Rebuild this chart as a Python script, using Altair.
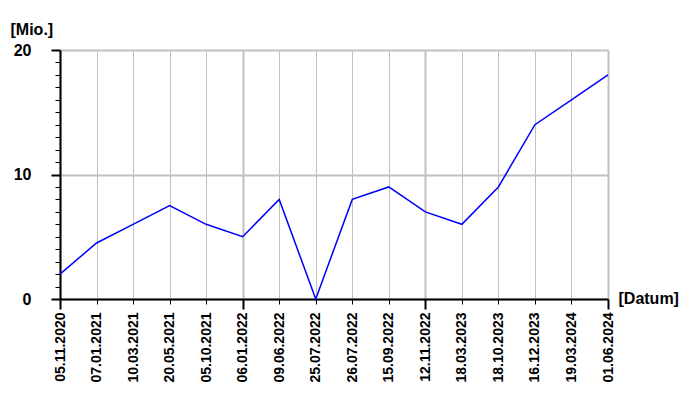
import json
import altair as alt
import pandas as pd

dates = ["05.11.2020", "07.01.2021", "10.03.2021", "20.05.2021", "05.10.2021",
         "06.01.2022", "09.06.2022", "25.07.2022", "26.07.2022", "15.09.2022",
         "12.11.2022", "18.03.2023", "18.10.2023", "16.12.2023", "19.03.2024",
         "01.06.2024"]
values = [2, 4.5, 6, 7.5, 6, 5, 8, 0, 8, 9, 7, 6, 9, 14, 16, 18]
major_dates = dates[::5]
y_ticks = list(range(0, 21))

df = pd.DataFrame({"Datum": dates, "Wert": values})

FONT = "Liberation Sans"
x_major = f"indexof({json.dumps(major_dates)}, datum.value) >= 0"
y_major = "datum.value % 10 === 0"


def cond(test, a, b):
    return {"condition": {"test": test, "value": a}, "value": b}


x_axis = alt.Axis(
    title="[Datum]", titleX=558, titleY=-1, titleAlign="left", titleBaseline="middle",
    titleAngle=0, titleFont=FONT, titleFontSize=16, titleFontWeight="bold", titleColor="black",
    labelAngle=270, labelFont=FONT, labelFontSize=14, labelFontWeight="bold", labelColor="black",
    labelOverlap=False, labelPadding=cond(x_major, 3, 8),
    tickColor="black", tickSize=cond(x_major, 10, 5), tickWidth=cond(x_major, 2, 1),
    domainColor="black", domainWidth=2,
    grid=True, gridColor="#c0c0c0", gridWidth=cond(x_major, 2, 1),
)

y_axis = alt.Axis(
    title="[Mio.]", titleX=-50, titleY=-16, titleAlign="left", titleBaseline="alphabetic",
    titleAngle=0, titleFont=FONT, titleFontSize=16, titleFontWeight="bold", titleColor="black",
    values=y_ticks, labelExpr="datum.value % 10 === 0 ? datum.label : ''",
    labelFont=FONT, labelFontSize=16, labelFontWeight="bold", labelColor="black",
    labelPadding=cond(y_major, 20, 24), labelBaseline="middle",
    tickColor="black", tickSize=cond(y_major, 9, 5), tickWidth=cond(y_major, 2, 1),
    domainColor="black", domainWidth=2,
    grid=True, gridColor="#c0c0c0", gridWidth=2, gridOpacity=cond(y_major, 1, 0),
)

chart = alt.Chart(df).mark_line(color="#0000ff", strokeWidth=1.5).encode(
    x=alt.X("Datum:O", sort=dates, scale=alt.Scale(type="point", padding=0), axis=x_axis),
    y=alt.Y("Wert:Q", scale=alt.Scale(domain=[0, 20], nice=False), axis=y_axis),
).properties(
    width=548, height=249,
    padding={"left": 52, "top": 42, "right": 80, "bottom": 95},
    autosize=alt.AutoSizeParams(type="none"),
).configure_view(strokeWidth=0)

chart.save("out.html", embed_options={"renderer": "svg", "actions": False})
